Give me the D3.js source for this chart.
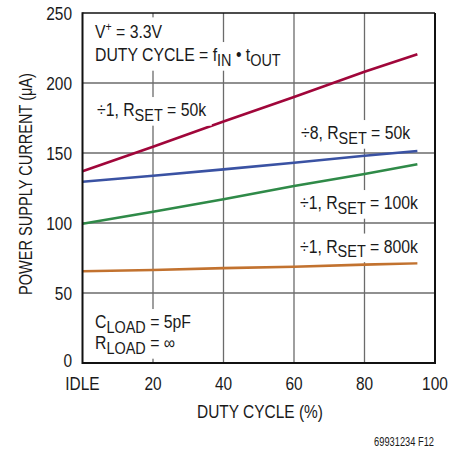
<!DOCTYPE html>
<html>
<head>
<meta charset="utf-8">
<script src="https://cdn.jsdelivr.net/npm/d3@7"></script>
<style>
  html, body { margin: 0; padding: 0; background: #fff; }
  svg text { font-family: 'Liberation Sans Narrow', 'Arial Narrow', 'Liberation Sans', Arial, sans-serif; fill: #1a1a1a; }
</style>
</head>
<body>
<svg id="chart" width="453" height="450"></svg>
<script>
// ---- data ----
const dutyCycle = [0, 20, 40, 60, 80, 95];
const seriesDiv1R50k  = [137, 154.5, 172.5, 190, 208, 220.5];
const seriesDiv8R50k  = [129.5, 133.8, 138.3, 143, 148, 151.4];
const seriesDiv1R100k = [99.5, 108, 117, 126.4, 135, 142];
const seriesDiv1R800k = [65.5, 66.4, 67.8, 68.8, 70.3, 71.2];
const xTickValues = [0, 20, 40, 60, 80, 100];
const xTickLabels = ["IDLE", "20", "40", "60", "80", "100"];
const yTickValues = [0, 50, 100, 150, 200, 250];

const svg = d3.select("#chart");
const x = d3.scaleLinear().domain([0, 100]).range([82.5, 435]);
const y = d3.scaleLinear().domain([0, 250]).range([363, 13]);

const FS = 18;
const SUBFS = 16.5;

// text helper: parts = [[text, kind], ...]
function ctext(g, xPos, yBase, parts, opts) {
  opts = opts || {};
  const sx = opts.sx != null ? opts.sx : 1;
  const size = opts.size || FS;
  const grp = g.append("g").attr("transform",
    `translate(${xPos},${yBase})` + (opts.rotate ? ` rotate(${opts.rotate})` : "") + ` scale(${sx},1)`);
  const t = grp.append("text").attr("x", 0).attr("y", 0).attr("font-size", size);
  if (opts.anchor) t.attr("text-anchor", opts.anchor);
  if (typeof parts === "string") parts = [[parts, "n"]];
  parts.forEach(p => {
    const ts = t.append("tspan").text(p[0]);
    if (p[1] === "sub") ts.attr("font-size", SUBFS).attr("dy", 4.5);
    else if (p[1] === "sup") ts.attr("font-size", 12).attr("dy", -7);
    else if (p[1] === "n2") ts.attr("dy", -4.5);
    else if (p[1] === "n3") ts.attr("dy", 7);
  });
  return { grp, t, sx };
}
// horizontal condensing factor so a sample text gets a target width
function fitScale(parts, target, size) {
  const r = ctext(svg, 0, -100, parts, { size: size });
  const w = r.t.node().getComputedTextLength();
  r.grp.remove();
  return Math.min(1, target / w);
}
const SX = fitScale("DUTY CYCLE (%)", 126);
const SXA = fitScale([["÷1, R", "n"], ["SET", "sub"], [" = 100k", "n2"]], 118);
const SXY = fitScale("POWER SUPPLY CURRENT (μA)", 222);
const SXF = fitScale("69931234 F12", 60, 12);

// gridlines
const grid = svg.append("g");
grid.selectAll("line.v").data([20, 40, 60, 80]).enter().append("line")
  .attr("x1", d => x(d)).attr("x2", d => x(d)).attr("y1", y(250)).attr("y2", y(0))
  .attr("stroke", "#6b6b6b").attr("stroke-width", 1.3);
grid.selectAll("line.h").data([50, 100, 150, 200]).enter().append("line")
  .attr("x1", x(0)).attr("x2", x(100)).attr("y1", d => y(d)).attr("y2", d => y(d))
  .attr("stroke", "#6b6b6b").attr("stroke-width", 1.3);

// series
const series = [
  { values: seriesDiv1R50k, color: "#a0063a" },
  { values: seriesDiv8R50k, color: "#3a52a3" },
  { values: seriesDiv1R100k, color: "#2f8a48" },
  { values: seriesDiv1R800k, color: "#c2722f" }
];
const line = d3.line().x((d, i) => x(dutyCycle[i])).y(d => y(d));
svg.append("g").selectAll("path").data(series).enter().append("path")
  .attr("d", d => line(d.values))
  .attr("fill", "none").attr("stroke", d => d.color).attr("stroke-width", 2.6);

// annotations with white boxes behind
const boxes = svg.append("g");
const annots = svg.append("g");
const annotDefs = [
  [95, 38, [["V", "n"], ["+", "sup"], [" = 3.3V", "n3"]]],
  [95, 61, [["DUTY CYCLE = f", "n"], ["IN", "sub"], [" • t", "n2"], ["OUT", "sub"]]],
  [97, 116, [["÷1, R", "n"], ["SET", "sub"], [" = 50k", "n2"]]],
  [301, 139, [["÷8, R", "n"], ["SET", "sub"], [" = 50k", "n2"]]],
  [300, 209, [["÷1, R", "n"], ["SET", "sub"], [" = 100k", "n2"]]],
  [300, 252.5, [["÷1, R", "n"], ["SET", "sub"], [" = 800k", "n2"]]],
  [95, 328, [["C", "n"], ["LOAD", "sub"], [" = 5pF", "n2"]]],
  [95, 349, [["R", "n"], ["LOAD", "sub"], [" = ∞", "n2"]]]
];
annotDefs.forEach(a => {
  const r = ctext(annots, a[0], a[1], a[2], { sx: SXA });
  const bb = r.t.node().getBBox();
  boxes.append("rect")
    .attr("x", a[0] + bb.x * r.sx - 5).attr("y", a[1] + bb.y - 3)
    .attr("width", bb.width * r.sx + 10).attr("height", bb.height + 5).attr("fill", "#fff");
});

// frame
const fr = svg.append("g");
fr.append("line").attr("x1", x(0)).attr("x2", x(100)).attr("y1", y(250)).attr("y2", y(250)).attr("stroke", "#111").attr("stroke-width", 1.5);
fr.append("line").attr("x1", x(100)).attr("x2", x(100)).attr("y1", y(250)).attr("y2", y(0)).attr("stroke", "#111").attr("stroke-width", 2);
fr.append("line").attr("x1", x(0)).attr("x2", x(0)).attr("y1", y(250) - 0.75).attr("y2", y(0) + 1).attr("stroke", "#111").attr("stroke-width", 2);
fr.append("line").attr("x1", x(0)).attr("x2", x(100) + 1).attr("y1", y(0)).attr("y2", y(0)).attr("stroke", "#111").attr("stroke-width", 2);

// y tick labels
const yl = svg.append("g");
yTickValues.forEach(v => ctext(yl, 72, y(v) + (v === 0 ? 4 : 7), String(v), { anchor: "end", sx: SX }));

// x tick labels
const xl = svg.append("g");
xTickValues.forEach((v, i) => ctext(xl, x(v), 390, xTickLabels[i], { anchor: "middle", sx: SX }));

// axis titles
ctext(svg, 260, 417.5, "DUTY CYCLE (%)", { anchor: "middle", sx: SX });
ctext(svg, 32, 184, "POWER SUPPLY CURRENT (μA)", { anchor: "middle", rotate: -90, sx: SXY });

// footer
ctext(svg, 434, 446, "69931234 F12", { anchor: "end", size: 12, sx: SXF });
</script>
</body>
</html>
